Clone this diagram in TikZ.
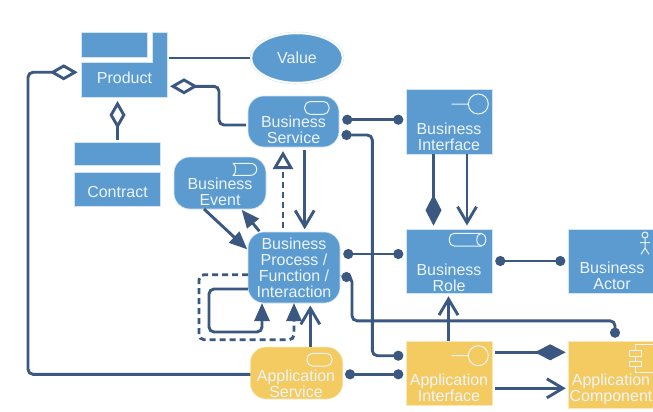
\documentclass[tikz,border=0pt]{standalone}
\usepackage{fontspec}
\setmainfont{Liberation Sans}
\usetikzlibrary{arrows.meta,shapes.geometric}
\definecolor{boxblue}{HTML}{5B9BD0}
\definecolor{boxyellow}{HTML}{F4CB60}
\definecolor{linkblue}{HTML}{3A5880}
\definecolor{edgeblue}{HTML}{D3E4F3}
\definecolor{edgeyellow}{HTML}{FAE8B8}
\definecolor{textpale}{HTML}{EDF4FB}
\tikzset{
  boxtext/.style={align=center, inner sep=0pt, text=textpale, font=\fontsize{16}{16}\selectfont},
  bluebox/.style={rectangle, fill=boxblue, draw=edgeblue, line width=0.6pt, inner sep=0pt, outer sep=0pt},
  yellowbox/.style={bluebox, fill=boxyellow, draw=edgeyellow},
  blueround/.style={bluebox, rounded corners=16pt},
  yellowround/.style={yellowbox, rounded corners=16pt},
  icon/.style={draw=textpale, line width=1pt},
  link/.style={draw=linkblue, line width=2.9pt, rounded corners=5pt},
  dotlink/.style={link, {Circle[length=10pt]}-{Circle[length=10pt]}, shorten <=3.3pt, shorten >=2.7pt},
  openlink/.style={link, -{Straight Barb[length=16pt,width=19pt]}},
  filllink/.style={link, -{Triangle[length=18pt,width=15pt]}},
  comp/.style={link, {Diamond[length=31pt,width=16pt]}-},
  aggr/.style={link, {Diamond[open,length=28pt,width=16pt,fill=white]}-}
}
\begin{document}
\begin{tikzpicture}[x=1pt,y=-1pt]
  \clip[use as bounding box] (0,0) rectangle (653,412);

  % product and contract
  \node[bluebox, minimum width=65.5pt, minimum height=25pt] (productbar) at (114.25,45) {};
  \node[bluebox, minimum width=14.5pt, minimum height=31pt] (producttab) at (159.75,48) {};
  \node[bluebox, minimum width=85.5pt, minimum height=34.5pt] (product) at (124.25,79.75) {};
  \node[boxtext] (producttext) at (124.5,77.5) {Product};
  \fill[boxblue] (152.8,60) rectangle (166.7,66);
  \node[bluebox, minimum width=86pt, minimum height=23pt] (contractbar) at (117.5,153.5) {};
  \node[bluebox, minimum width=86pt, minimum height=34pt] (contract) at (117.5,189) {};
  \node[boxtext] (contracttext) at (117.5,191.5) {Contract};
  \node[ellipse, fill=boxblue, draw=edgeblue, line width=0.5pt, double=white, double distance=1.5pt,
    minimum width=92pt, minimum height=50pt, inner sep=0pt, boxtext] (value) at (297,58) {Value};

  % business layer, rounded
  \node[blueround, minimum width=91pt, minimum height=51pt] (service) at (293.5,121.5) {};
  \node[boxtext] (servicetext) at (293.5,130) {Business\\Service};
  \node[blueround, minimum width=92pt, minimum height=52pt] (event) at (220,183) {};
  \node[boxtext] (eventtext) at (220,191.5) {Business\\Event};
  \node[blueround, minimum width=92pt, minimum height=71pt, boxtext] (process) at (294,267.5)
    {Business\\Process /\\Function /\\Interaction};

  % business layer, square
  \node[bluebox, minimum width=86pt, minimum height=65pt] (interface) at (449,121.5) {};
  \node[boxtext] (interfacetext) at (449,137) {Business\\Interface};
  \node[bluebox, minimum width=86pt, minimum height=64pt] (role) at (449,261) {};
  \node[boxtext] (roletext) at (449,278) {Business\\Role};
  \node[bluebox, minimum width=88pt, minimum height=64pt] (actor) at (612,261) {};
  \node[boxtext] (actortext) at (612,275.5) {Business\\Actor};

  % application layer
  \node[yellowround, minimum width=92.5pt, minimum height=52pt] (appservice) at (296.5,373) {};
  \node[boxtext] (appservicetext) at (296,384) {Application\\Service};
  \node[yellowbox, minimum width=86pt, minimum height=64pt] (appinterface) at (449,373) {};
  \node[boxtext] (appinterfacetext) at (449,388) {Application\\Interface};
  \node[yellowbox, minimum width=88pt, minimum height=67pt] (component) at (612,374.5) {};
  \node[boxtext] (componenttext) at (611,389) {Application\\Component};

  % icons
  \draw[icon, rounded corners=5.5pt] (304.7,101.5) rectangle (329,114.3);
  \draw[icon, rounded corners=5.5pt] (307,353.3) rectangle (332,366);
  \draw[icon] (233.3,163.3) -- (250.7,163.3) arc[start angle=-90,end angle=90,radius=6]
    -- (233.3,175.3) .. controls (236.5,173) and (236.5,165.5) .. (233.3,163.3) -- cycle;
  \draw[icon] (451.7,104) -- (468.3,104) (478.3,104) circle[radius=10];
  \draw[icon] (451.7,355.7) -- (468.3,355.7) (478.3,355.7) circle[radius=10];
  \draw[icon, rounded corners=5pt] (481.3,233.3) -- (449.3,233.3) -- (449.3,246) -- (481.3,246);
  \draw[icon] (481.3,239.7) ellipse[x radius=4.5, y radius=6.3];
  \draw[icon] (645,235) circle[radius=3] (645,238) -- (645,248) -- (641,254.3) (645,248) -- (649,254.3)
    (640,242.7) -- (650,242.7);
  \draw[icon] (635,344) rectangle (660,372);
  \draw[icon, fill=boxyellow] (629.3,350.7) rectangle (641.7,356.3);
  \draw[icon, fill=boxyellow] (629.3,361) rectangle (641.7,366.7);

  % links
  \draw[link, shorten <=1.5pt, shorten >=1pt] (producttab.east |- 0,58) -- (value.west |- 0,58);
  \draw[aggr, shorten <=3.8pt] (product.west |- 0,72.3) -- (28,72.3) -- (28,374.3) -- (appservice.west |- 0,374.3);
  \draw[aggr, shorten <=3pt, shorten >=2pt] (product.east |- 0,86.3) -- (219,86.3) -- (219,125) -- (service.west |- 0,125);
  \draw[aggr, shorten <=4pt, shorten >=2pt] (product.south -| 117.5,0) -- (contractbar.north);
  \draw[dotlink] (service.east |- 0,119.7) -- (interface.west |- 0,119.7);
  \draw[dotlink, shorten <=2.5pt] (service.east |- 0,135) -- (372.3,135) -- (372.3,355.7) -- (appinterface.west |- 0,355.7);
  \draw[dotlink] (process.east |- 0,254) -- (role.west |- 0,254);
  \draw[dotlink, shorten <=1.5pt, shorten >=3.3pt] (process.east |- 0,277) -- (352,277) -- (352,320.8) -- (615,320.8) -- (component.north -| 615,0);
  \draw[dotlink, shorten <=2.3pt] (appservice.east |- 0,374.3) -- (appinterface.west |- 0,374.3);
  \draw[dotlink] (role.east |- 0,261) -- (actor.west |- 0,261);
  \draw[comp, shorten <=3.3pt] (role.north -| 433.5,0) -- (interface.south -| 433.5,0);
  \draw[openlink, shorten >=3.5pt] (interface.south -| 467,0) -- (role.north -| 467,0);
  \draw[openlink, shorten >=3.3pt] (appinterface.north -| 448.5,0) -- (role.south -| 448.5,0);
  \draw[comp, shorten <=2.3pt, shorten >=3pt] (component.west |- 0,352.3) -- (appinterface.east |- 0,352.3);
  \draw[openlink, shorten <=3pt, shorten >=2.3pt] (appinterface.east |- 0,388.3) -- (component.west |- 0,388.3);
  \draw[openlink, shorten <=3pt, shorten >=2.7pt] (service.south -| 304.7,0) -- (process.north -| 304.7,0);
  \draw[link, dash pattern=on 6pt off 4pt, -{Triangle[open,length=18pt,width=20pt,fill=white]}, shorten <=4pt]
    (process.north -| 283,0) -- (283,151);
  \draw[filllink, shorten >=1pt] (event.south -| 204,0) -- (process.west |- 0,250);
  \draw[filllink, shorten <=1pt, shorten >=1pt] (process.north -| 260,0) -- (event.south -| 241,0);
  \draw[filllink] (process.west |- 0,289) -- (209,289) -- (209,332) -- (262,332) -- (process.south -| 262,0);
  \draw[filllink, dash pattern=on 6pt off 4pt] (process.west |- 0,274.7) -- (199,274.7) -- (199,339.7) -- (294,339.7) -- (process.south -| 294,0);
  \draw[openlink, shorten >=2.5pt] (appservice.north -| 310.3,0) -- (process.south -| 310.3,0);
\end{tikzpicture}
\end{document}
